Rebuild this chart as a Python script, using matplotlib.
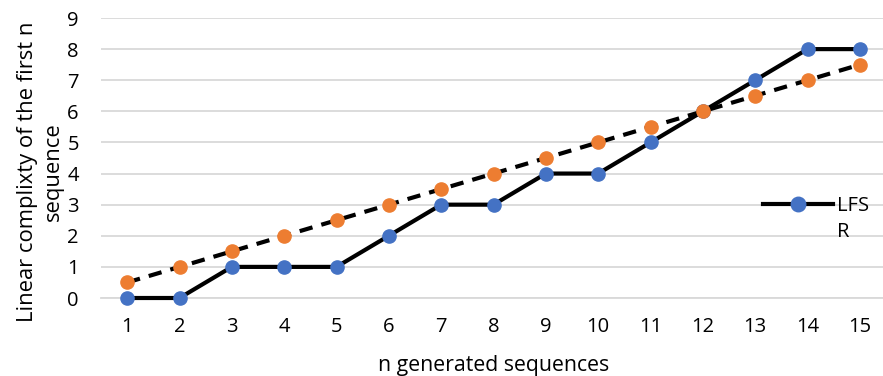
import numpy as np
import matplotlib.pyplot as plt

plt.rcParams['font.family'] = ['Open Sans', 'DejaVu Sans']

# data
n_seq = list(range(1, 16))
lfsr = [0, 0, 1, 1, 1, 2, 3, 3, 4, 4, 5, 6, 7, 8, 8]
second = [0.5, 1, 1.5, 2, 2.5, 3, 3.5, 4, 4.5, 5, 5.5, 6, 6.5, 7, 7.5]

blue = '#4472C4'
orange = '#ED7D31'

fig = plt.figure(figsize=(8.83, 3.76), dpi=100)
ax = fig.add_axes([101/883, 78/376, 785/883, 280/376])

ax.plot(n_seq, lfsr, color='black', lw=3, marker='o', ms=9.5,
        mfc=blue, mec=blue, label='LFS', clip_on=False, zorder=3)
ax.plot(n_seq, second, color='black', lw=3, ls=(0, (3.2, 2.2)), marker='o', ms=9.5,
        mfc=orange, mec=orange, clip_on=False, zorder=4)

ax.set_xlim(0.5, 15.5)
ax.set_ylim(0, 9)
ax.set_xticks(n_seq)
ax.set_yticks(range(0, 10))
ax.tick_params(length=0, labelsize=14.5, pad=14)
ax.tick_params(axis='y', pad=16)
ax.grid(axis='y', color='#D9D9D9', lw=1.3)
ax.set_axisbelow(True)
for s in ['top', 'right', 'left']:
    ax.spines[s].set_visible(False)
ax.spines['bottom'].set_color('#D9D9D9')
ax.spines['bottom'].set_linewidth(1.3)

ax.set_xlabel('n generated sequences', fontsize=15.3, labelpad=13)
ax.set_ylabel('Linear complixty of the first n\nsequence', fontsize=15.8,
              linespacing=1.35)
ax.yaxis.set_label_coords(-0.047, 0.45)

leg = ax.legend(loc='center left', bbox_to_anchor=(0.82, 0.33), frameon=False,
                fontsize=14.5, handlelength=3.5, handletextpad=0.2, markerscale=1.1)
# the legend label wraps onto a second line in the original
ax.annotate('R', xy=(0, 0), xycoords=leg.get_texts()[0], xytext=(0, -19),
            textcoords='offset points', fontsize=14.5, va='bottom', zorder=10)

fig.savefig('out.png', dpi=100)
